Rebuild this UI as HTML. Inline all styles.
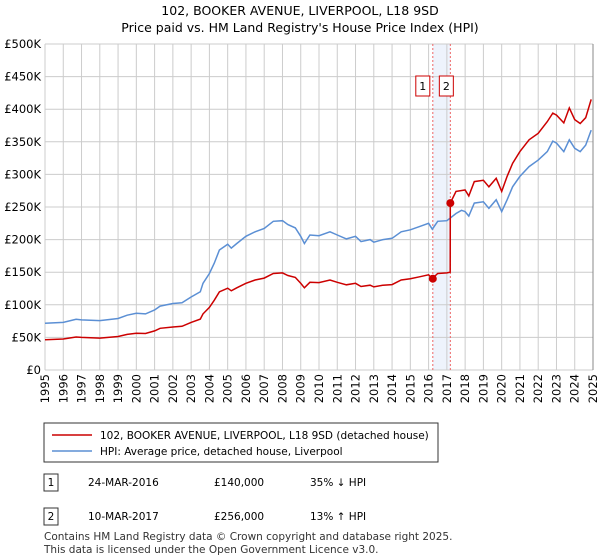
<!DOCTYPE html>
<html><head><meta charset="utf-8"><style>
body{margin:0;background:#fff;font-family:"Liberation Sans","DejaVu Sans",sans-serif;}
#wrap{position:relative;width:600px;height:560px;overflow:hidden;}
svg text{font-family:"DejaVu Sans","Liberation Sans",sans-serif;}
</style></head><body><div id="wrap">
<svg id="chart" width="600" height="560">
<text x="300" y="15" text-anchor="middle" font-size="12.5">102, BOOKER AVENUE, LIVERPOOL, L18 9SD</text>
<text x="300" y="32" text-anchor="middle" font-size="12.5">Price paid vs. HM Land Registry's House Price Index (HPI)</text>
<g id="grid"></g><g id="marks"></g><g id="axes"></g>
<g>
<rect x="44" y="423" width="394" height="39" fill="#fff" stroke="#333"/>
<line x1="52" y1="435" x2="92" y2="435" stroke="#cc0000" stroke-width="1.5"/>
<text x="100" y="439" font-size="10.5">102, BOOKER AVENUE, LIVERPOOL, L18 9SD (detached house)</text>
<line x1="52" y1="451" x2="92" y2="451" stroke="#5b8fd4" stroke-width="1.5"/>
<text x="100" y="455" font-size="10.5">HPI: Average price, detached house, Liverpool</text>
</g>
<g font-size="10.5">
<rect x="44" y="474" width="14" height="17" fill="#fff" stroke="#333"/>
<text x="51" y="486" text-anchor="middle">1</text>
<text x="88" y="486">24-MAR-2016</text>
<text x="214" y="486">£140,000</text>
<text x="310" y="486">35% ↓ HPI</text>
<rect x="44" y="508" width="14" height="17" fill="#fff" stroke="#333"/>
<text x="51" y="520" text-anchor="middle">2</text>
<text x="88" y="520">10-MAR-2017</text>
<text x="214" y="520">£256,000</text>
<text x="310" y="520">13% ↑ HPI</text>
</g>
<text x="44" y="540" font-size="10.5" fill="#333">Contains HM Land Registry data © Crown copyright and database right 2025.</text>
<text x="44" y="553" font-size="10.5" fill="#333">This data is licensed under the Open Government Licence v3.0.</text>
</svg>
<script>
const hpiYears=[1995,1996,1996.7,1997,1998,1999,1999.5,2000,2000.5,2001,2001.3,2002,2002.5,2003,2003.5,2003.65,2004,2004.27,2004.55,2005,2005.2,2005.5,2006,2006.5,2007,2007.5,2008,2008.3,2008.7,2009,2009.2,2009.5,2010,2010.6,2011,2011.5,2012,2012.3,2012.8,2013,2013.5,2014,2014.5,2015,2015.5,2016,2016.2,2016.5,2017,2017.5,2017.8,2018,2018.2,2018.5,2019,2019.3,2019.7,2020,2020.3,2020.6,2021,2021.5,2022,2022.5,2022.8,2023,2023.4,2023.7,2024,2024.3,2024.6,2024.9];
const hpiValues=[71.6,73,77.8,76.8,75.7,79,84,87,86,92,98,102,103,112,120,133,148,164,184,193,187,194,205,212,217,228,229,223,218,205,194,207,206,212,207,201,205,197,200,196,200,202,212,215,220,225,216,228,229,240,245,243,236,256,258,248,261,243,261,281,297,312,322,335,351,348,335,353,340,335,345,368];
const paidYears=[1995,1996,1996.7,1997,1998,1999,1999.5,2000,2000.5,2001,2001.3,2002,2002.5,2003,2003.5,2003.65,2004,2004.27,2004.55,2005,2005.2,2005.5,2006,2006.5,2007,2007.5,2008,2008.3,2008.7,2009,2009.2,2009.5,2010,2010.6,2011,2011.5,2012,2012.3,2012.8,2013,2013.5,2014,2014.5,2015,2015.5,2016,2016.2,2016.5,2017,2017.18,2017.19,2017.5,2018,2018.2,2018.5,2019,2019.3,2019.7,2020,2020.3,2020.6,2021,2021.5,2022,2022.5,2022.8,2023,2023.4,2023.7,2024,2024.3,2024.6,2024.9];
const paidValues=[46.5,47.5,50.6,50,49,51.4,54.6,56.5,56,60,64,66,67,73,78,86,96,107,120,125.5,121.5,126,133,138,141,148,149,145,142,133,126,134.5,134,138,134.5,130.7,133,128,130,127.4,130,131,138,140,143,146,140.4,148,149,150,256,274,276,267,289,291,281,294,274,297,317,335,353,363,381,394,391,379,402,384,378,387,415];
const saleYears=[2016.23,2017.19];
const saleValues=[140,256];
const yTicks=[0,50,100,150,200,250,300,350,400,450,500];
const yTickLabels=["£0","£50K","£100K","£150K","£200K","£250K","£300K","£350K","£400K","£450K","£500K"];
const xTicks=[1995,1996,1997,1998,1999,2000,2001,2002,2003,2004,2005,2006,2007,2008,2009,2010,2011,2012,2013,2014,2015,2016,2017,2018,2019,2020,2021,2022,2023,2024,2025];

const L=45,R=593,T=44,B=370;
const xs=y=>L+(y-1995)/30*(R-L);
const ys=v=>B-v/500*(B-T);
const NS="http://www.w3.org/2000/svg";
function mk(parent,tag,attrs){const e=document.createElementNS(NS,tag);for(const k in attrs)e.setAttribute(k,attrs[k]);document.getElementById(parent).appendChild(e);return e;}
let e;
// shaded band
e=mk('grid','rect',{x:xs(saleYears[0]),y:T,width:xs(saleYears[1])-xs(saleYears[0]),height:B-T,fill:'#eef3fc'});


yTicks.forEach((v,i)=>{
 e=mk('grid','line',{x1:L,x2:R,y1:ys(v),y2:ys(v),stroke:'#cccccc'});
 
 
 e=mk('axes','text',{x:L-4,y:ys(v)+4,'text-anchor':'end','font-size':'11.5'});
 e.textContent=yTickLabels[i];
 
 
});
xTicks.forEach(y=>{
 e=mk('grid','line',{x1:xs(y),x2:xs(y),y1:T,y2:B,stroke:'#cccccc'});
 
 
 const t=mk('axes','text',{x:0,y:0,'text-anchor':'end','font-size':'11.5',transform:`translate(${xs(y)+4},374) rotate(-90)`});
 t.textContent=y;
 
 
});
e=mk('axes','line',{x1:R,x2:R,y1:T,y2:B,stroke:'#888'});


saleYears.forEach((y,i)=>{
 e=mk('marks','line',{x1:xs(y),x2:xs(y),y1:T,y2:B,stroke:'#ee6666','stroke-dasharray':'2,2'});
 
 
});
function path(xa,va,color,name){
 const d=xa.map((y,i)=>(i?'L':'M')+xs(y).toFixed(1)+','+ys(va[i]).toFixed(1)).join('');
 const p=mk('marks','path',{d:d,fill:'none',stroke:color,'stroke-width':1.5});
 
 
}
path(hpiYears,hpiValues,'#5b8fd4','hpi-line');
path(paidYears,paidValues,'#cc0000','price-paid-line');
saleYears.forEach((y,i)=>{
 e=mk('marks','circle',{cx:xs(y),cy:ys(saleValues[i]),r:4,fill:'#cc0000'});
 
 
 const bx=xs(y)-(i===0?14:-3)+ (i===0?0:0);
 e=mk('marks','rect',{x:i===0?xs(y)-17:xs(y)-11,y:76,width:14,height:20,fill:'#fff',stroke:'#cc0000'});
 
 
 e=mk('marks','text',{x:i===0?xs(y)-10:xs(y)-4,y:90,'text-anchor':'middle','font-size':'11'});
 e.textContent=String(i+1);
 
 
});
</script>
</div></body></html>
